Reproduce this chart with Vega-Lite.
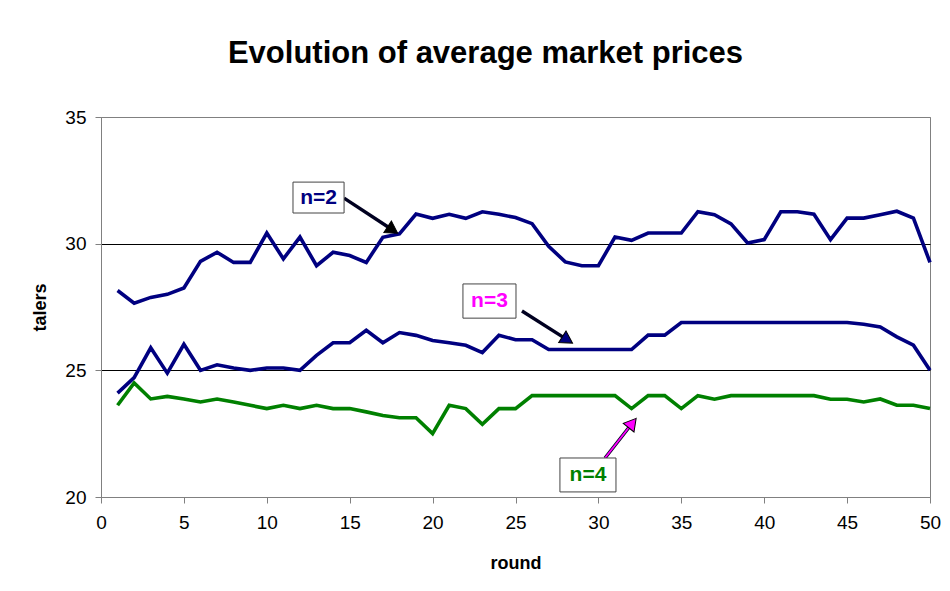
{
  "$schema": "https://vega.github.io/schema/vega-lite/v6.json",
  "autosize": {"type": "none"},
  "width": 829,
  "height": 380,
  "padding": {"left": 101, "top": 117, "right": 20, "bottom": 94},
  "background": "white",
  "title": {
    "text": "Evolution of average market prices",
    "font": "Liberation Sans",
    "fontSize": 31,
    "fontWeight": "bold",
    "color": "black",
    "anchor": "middle",
    "dx": -30,
    "offset": 38
  },
  "config": {
    "font": "Liberation Sans",
    "view": {"stroke": "#808080", "strokeWidth": 1},
    "axis": {
      "labelFont": "Liberation Sans",
      "labelFontSize": 19,
      "labelColor": "black",
      "labelFlush": false,
      "titleFont": "Liberation Sans",
      "titleFontSize": 18,
      "titleFontWeight": "bold",
      "titleColor": "black",
      "domainColor": "#808080",
      "tickColor": "#808080",
      "tickSize": 6
    }
  },
  "datasets": {
    "prices": [
      {"round":1,"n2":28.15,"n3":24.1,"n4":23.62},
      {"round":2,"n2":27.65,"n3":24.71,"n4":24.5},
      {"round":3,"n2":27.88,"n3":25.89,"n4":23.87},
      {"round":4,"n2":28.0,"n3":24.89,"n4":23.97},
      {"round":5,"n2":28.25,"n3":26.03,"n4":23.87},
      {"round":6,"n2":29.3,"n3":25.0,"n4":23.75},
      {"round":7,"n2":29.66,"n3":25.22,"n4":23.87},
      {"round":8,"n2":29.26,"n3":25.09,"n4":23.75},
      {"round":9,"n2":29.26,"n3":25.0,"n4":23.62},
      {"round":10,"n2":30.42,"n3":25.09,"n4":23.49},
      {"round":11,"n2":29.4,"n3":25.09,"n4":23.62},
      {"round":12,"n2":30.26,"n3":25.0,"n4":23.49},
      {"round":13,"n2":29.13,"n3":25.59,"n4":23.62},
      {"round":14,"n2":29.66,"n3":26.09,"n4":23.49},
      {"round":15,"n2":29.53,"n3":26.09,"n4":23.49},
      {"round":16,"n2":29.26,"n3":26.58,"n4":23.36},
      {"round":17,"n2":30.25,"n3":26.09,"n4":23.22},
      {"round":18,"n2":30.39,"n3":26.49,"n4":23.13},
      {"round":19,"n2":31.17,"n3":26.38,"n4":23.13},
      {"round":20,"n2":31.0,"n3":26.18,"n4":22.5},
      {"round":21,"n2":31.16,"n3":26.09,"n4":23.62},
      {"round":22,"n2":31.0,"n3":25.99,"n4":23.49},
      {"round":23,"n2":31.26,"n3":25.7,"n4":22.87},
      {"round":24,"n2":31.16,"n3":26.38,"n4":23.49},
      {"round":25,"n2":31.03,"n3":26.21,"n4":23.49},
      {"round":26,"n2":30.79,"n3":26.21,"n4":24.0},
      {"round":27,"n2":29.9,"n3":25.82,"n4":24.0},
      {"round":28,"n2":29.28,"n3":25.82,"n4":24.0},
      {"round":29,"n2":29.13,"n3":25.82,"n4":24.0},
      {"round":30,"n2":29.13,"n3":25.82,"n4":24.0},
      {"round":31,"n2":30.26,"n3":25.82,"n4":24.0},
      {"round":32,"n2":30.13,"n3":25.82,"n4":23.49},
      {"round":33,"n2":30.42,"n3":26.39,"n4":24.0},
      {"round":34,"n2":30.42,"n3":26.39,"n4":24.0},
      {"round":35,"n2":30.42,"n3":26.89,"n4":23.49},
      {"round":36,"n2":31.26,"n3":26.89,"n4":24.0},
      {"round":37,"n2":31.14,"n3":26.89,"n4":23.86},
      {"round":38,"n2":30.78,"n3":26.89,"n4":24.0},
      {"round":39,"n2":30.03,"n3":26.89,"n4":24.0},
      {"round":40,"n2":30.16,"n3":26.89,"n4":24.0},
      {"round":41,"n2":31.26,"n3":26.89,"n4":24.0},
      {"round":42,"n2":31.26,"n3":26.89,"n4":24.0},
      {"round":43,"n2":31.16,"n3":26.89,"n4":24.0},
      {"round":44,"n2":30.16,"n3":26.89,"n4":23.86},
      {"round":45,"n2":31.01,"n3":26.89,"n4":23.86},
      {"round":46,"n2":31.01,"n3":26.82,"n4":23.75},
      {"round":47,"n2":31.14,"n3":26.71,"n4":23.87},
      {"round":48,"n2":31.28,"n3":26.32,"n4":23.62},
      {"round":49,"n2":31.01,"n3":25.99,"n4":23.62},
      {"round":50,"n2":29.26,"n3":25.0,"n4":23.49}
    ],
    "boxes": [
      {"label":"n=2","x1":11.58,"x2":14.66,"y1":32.43,"y2":31.21,"tx":13.12,"ty":31.82},
      {"label":"n=3","x1":21.83,"x2":25.03,"y1":28.41,"y2":27.06,"tx":23.43,"ty":27.74},
      {"label":"n=4","x1":27.68,"x2":31.06,"y1":21.54,"y2":20.2,"tx":29.37,"ty":20.87}
    ],
    "arrows": [
      {"label":"n=2","sx":14.66,"sy":31.8,"ex":17.59,"ey":30.54,"angle":33},
      {"label":"n=3","sx":25.39,"sy":27.34,"ex":28.13,"ey":26.2,"angle":32},
      {"label":"n=4","sx":30.4,"sy":21.54,"ex":32.05,"ey":22.92,"angle":309}
    ]
  },
  "resolve": {"scale": {"color": "independent", "fill": "independent"}},
  "layer": [
    {
      "data": {"name": "prices"},
      "transform": [{"fold": ["n2", "n3", "n4"], "as": ["series", "price"]}],
      "mark": {"type": "line", "strokeWidth": 3.6, "strokeJoin": "miter"},
      "encoding": {
        "x": {
          "field": "round", "type": "quantitative", "title": "round",
          "scale": {"domain": [0, 50], "nice": false, "zero": false},
          "axis": {"values": [0,5,10,15,20,25,30,35,40,45,50], "grid": false, "labelPadding": 10, "titlePadding": 22}
        },
        "y": {
          "field": "price", "type": "quantitative", "title": "talers",
          "scale": {"domain": [20, 35], "nice": false, "zero": false},
          "axis": {
            "values": [20, 25, 30, 35], "grid": true,
            "gridColor": {"condition": {"test": "datum.value === 25 || datum.value === 30", "value": "black"}, "value": "#808080"},
            "labelPadding": 9, "titlePadding": 15
          }
        },
        "color": {
          "field": "series", "type": "nominal",
          "scale": {"domain": ["n2", "n3", "n4"], "range": ["#000080", "#000080", "#008000"]},
          "legend": null
        }
      }
    },
    {
      "data": {"name": "arrows"},
      "mark": {"type": "rule", "strokeWidth": 3.4, "color": "#000020"},
      "encoding": {
        "x": {"field": "sx", "type": "quantitative", "title": "round"},
        "y": {"field": "sy", "type": "quantitative", "title": "talers"},
        "x2": {"field": "ex"},
        "y2": {"field": "ey"}
      }
    },
    {
      "data": {"name": "arrows"},
      "transform": [{"filter": "datum.label === 'n=4'"}],
      "mark": {"type": "rule", "strokeWidth": 1.8, "color": "#FF00FF"},
      "encoding": {
        "x": {"field": "sx", "type": "quantitative", "title": "round"},
        "y": {"field": "sy", "type": "quantitative", "title": "talers"},
        "x2": {"field": "ex"},
        "y2": {"field": "ey"}
      }
    },
    {
      "data": {"name": "arrows"},
      "mark": {"type": "point", "shape": "triangle-right", "filled": true, "size": 190, "stroke": "black", "strokeWidth": 1, "opacity": 1},
      "encoding": {
        "x": {"field": "ex", "type": "quantitative", "title": "round"},
        "y": {"field": "ey", "type": "quantitative", "title": "talers"},
        "angle": {"field": "angle", "type": "quantitative", "scale": null},
        "fill": {
          "field": "label", "type": "nominal",
          "scale": {"domain": ["n=2", "n=3", "n=4"], "range": ["black", "#000080", "#FF00FF"]},
          "legend": null
        }
      }
    },
    {
      "data": {"name": "boxes"},
      "mark": {"type": "rect", "fill": "white", "stroke": "#444444", "strokeWidth": 1},
      "encoding": {
        "x": {"field": "x1", "type": "quantitative", "title": "round"},
        "x2": {"field": "x2"},
        "y": {"field": "y1", "type": "quantitative", "title": "talers"},
        "y2": {"field": "y2"}
      }
    },
    {
      "data": {"name": "boxes"},
      "mark": {"type": "text", "font": "Liberation Sans", "fontSize": 21, "fontWeight": "bold", "align": "center", "baseline": "middle"},
      "encoding": {
        "x": {"field": "tx", "type": "quantitative", "title": "round"},
        "y": {"field": "ty", "type": "quantitative", "title": "talers"},
        "text": {"field": "label"},
        "color": {
          "field": "label", "type": "nominal",
          "scale": {"domain": ["n=2", "n=3", "n=4"], "range": ["#000080", "#FF00FF", "#008000"]},
          "legend": null
        }
      }
    }
  ]
}
